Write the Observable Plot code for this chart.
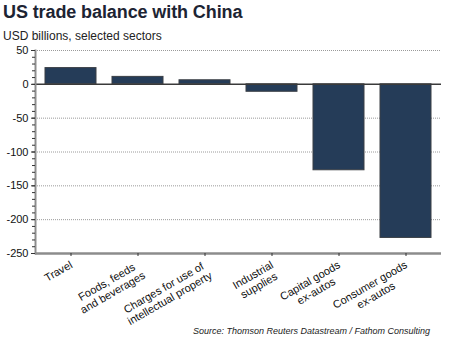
<!DOCTYPE html>
<html>
<head>
<meta charset="utf-8">
<script src="https://cdn.jsdelivr.net/npm/d3@7"></script>
<script src="https://cdn.jsdelivr.net/npm/@observablehq/plot@0.6"></script>
<style>
  html, body { margin: 0; padding: 0; background: #fff; }
  body { width: 455px; height: 340px; position: relative; overflow: hidden;
         font-family: "Liberation Sans", Arial, sans-serif; }
  #title { position: absolute; left: 3px; top: 2px; font-size: 18px; font-weight: bold; color: #1d2433; letter-spacing: -0.1px; }
  #subtitle { position: absolute; left: 3px; top: 29px; font-size: 12px; color: #222; }
  #chart { position: absolute; left: 0; top: 40px; }
  #source { position: absolute; right: 25px; top: 326px; font-size: 9px; font-style: italic; color: #222; }
</style>
</head>
<body>
<div id="title">US trade balance with China</div>
<div id="subtitle">USD billions, selected sectors</div>
<div id="chart"></div>
<div id="source">Source: Thomson Reuters Datastream / Fathom Consulting</div>
<script>
const categories = ["Travel", "Foods", "Charges", "Industrial", "Capital", "Consumer"];
const labels = ["Travel", "Foods, feeds\nand beverages", "Charges for use of\nintellectual property", "Industrial\nsupplies", "Capital goods\nex-autos", "Consumer goods\nex-autos"];
const values = [24, 11, 6, -11, -127, -227];
const majorTicks = [50, 0, -50, -100, -150, -200, -250];
const gridTicks = [50, -50, -100, -150, -200];

const data = categories.map((c, i) => ({cat: c, label: labels[i], value: values[i]}));

const plot = Plot.plot({
  width: 455,
  height: 286,
  marginLeft: 35,
  marginRight: 14,
  marginTop: 10,
  marginBottom: 73,
  style: {fontFamily: "'Liberation Sans', Arial, sans-serif", fontSize: "11px", color: "#222", background: "transparent", overflow: "visible"},
  x: {domain: categories, paddingInner: 0.24, paddingOuter: 0.14, axis: null},
  y: {domain: [-250, 50], axis: null},
  marks: [
    Plot.gridY(gridTicks, {stroke: "#9a9a9a", strokeOpacity: 1, strokeDasharray: "1,1", strokeWidth: 1}),
    Plot.barY(data, {x: "cat", y: "value", fill: "#253c58", stroke: "#3b3f45", strokeWidth: 1}),
    Plot.ruleY([0], {stroke: "#3a3a3a", strokeWidth: 1.5}),
    Plot.ruleY([-250], {stroke: "#8c8c8c", strokeWidth: 2.5}),
    Plot.frame({anchor: "left", stroke: "#8c8c8c", strokeWidth: 2}),
    Plot.axisY({ticks: d3.range(-250, 51, 10), tickSize: 3, tickFormat: null, text: null, stroke: "#333", label: null}),
    Plot.axisY(majorTicks, {tickSize: 4, tickPadding: 3, tickFormat: d => d, stroke: "#333", fill: "#111", fontSize: 11, label: null}),
    Plot.axisX({tickSize: 3, text: null, label: null, stroke: "#333"}),
    Plot.text(data, {x: "cat", y: () => -250, text: "label", rotate: -30, textAnchor: "end", lineAnchor: "top",
      dx: -2, dy: 6, fontSize: 11, fill: "#111", lineHeight: 1.1})
  ]
});
document.getElementById("chart").appendChild(plot);

// center the lines of each rotated label block, keeping its right end at the tick
d3.select(plot).selectAll("g[aria-label='text'] text").each(function() {
  const w = this.getBBox().width;
  const t = this.getAttribute("transform") || "";
  this.setAttribute("text-anchor", "middle");
  this.setAttribute("transform", t + ` translate(${-w / 2},0)`);
});
</script>
</body>
</html>
